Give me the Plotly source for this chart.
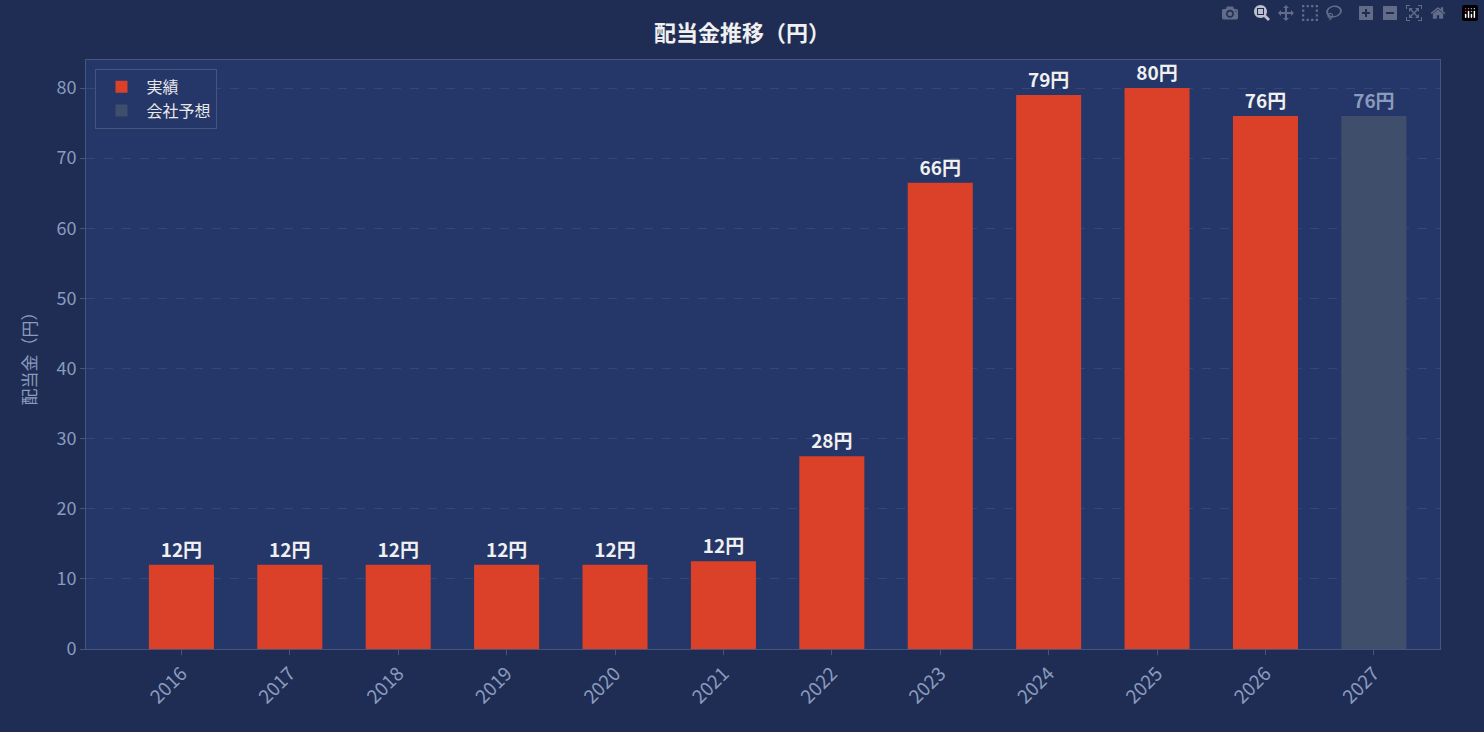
import plotly.graph_objects as go

years = ["2016", "2017", "2018", "2019", "2020", "2021", "2022", "2023", "2024", "2025", "2026", "2027"]
dividends = [12, 12, 12, 12, 12, 12.5, 27.5, 66.5, 79, 80, 76, 76]
labels = ["12円", "12円", "12円", "12円", "12円", "12円", "28円", "66円", "79円", "80円", "76円", "76円"]
is_forecast = [False] * 11 + [True]

FONT = "Noto Sans CJK JP"
fig = go.Figure()
for fc, name, color, tcolor in [(False, "実績", "#db4129", "#f0f0f0"), (True, "会社予想", "#3f4f6b", "#8a9bbd")]:
    idx = [i for i, f in enumerate(is_forecast) if f == fc]
    fig.add_trace(go.Bar(
        x=idx, y=[dividends[i] for i in idx], name=name,
        marker=dict(color=color, line=dict(width=0)), width=0.6,
        text=[labels[i] for i in idx], textposition="outside", cliponaxis=False,
        textfont=dict(color=tcolor, size=19, family=FONT, weight="bold"),
        outsidetextfont=dict(color=tcolor, size=19, family=FONT, weight="bold"),
    ))

fig.update_layout(
    width=1484, height=732,
    paper_bgcolor="#1f2d55", plot_bgcolor="#253668",
    margin=dict(l=86, r=44, t=60, b=83),
    font=dict(family=FONT, color="#8a9bbd", size=17),
    title=dict(text="<b>配当金推移（円）</b>", x=0.5, y=0.965, xanchor="center",
               font=dict(size=22, color="#f0f0f0")),
    barmode="overlay", uniformtext=dict(minsize=19, mode="show"),
    legend=dict(x=0.007, y=0.985, xanchor="left", yanchor="top",
                bgcolor="#253668", bordercolor="#46557d", borderwidth=1,
                font=dict(size=16, color="#e8e8e8"), itemwidth=40),
    xaxis=dict(range=[-0.88, 11.61], tickvals=list(range(len(years))), ticktext=years,
               tickangle=-45, showgrid=False, showline=True, linecolor="#46557d", mirror=True,
               ticks="outside", tickcolor="#46557d", ticklen=5, zeroline=False,
               tickfont=dict(size=19)),
    yaxis=dict(range=[0, 84], dtick=10, title=dict(text="配当金（円）", font=dict(size=17)),
               gridcolor="rgba(120,140,190,0.2)", griddash="dash", showline=True,
               linecolor="#46557d", mirror=True, ticks="outside", tickcolor="#46557d",
               ticklen=5, zeroline=False, tickfont=dict(size=18)),
)
fig.write_html("out.html")
with open("out.html", encoding="utf-8") as f:
    html = f.read()
html = html.replace("<body>", '<body style="margin:0;background:#1f2d55">', 1)
with open("out.html", "w", encoding="utf-8") as f:
    f.write(html)
